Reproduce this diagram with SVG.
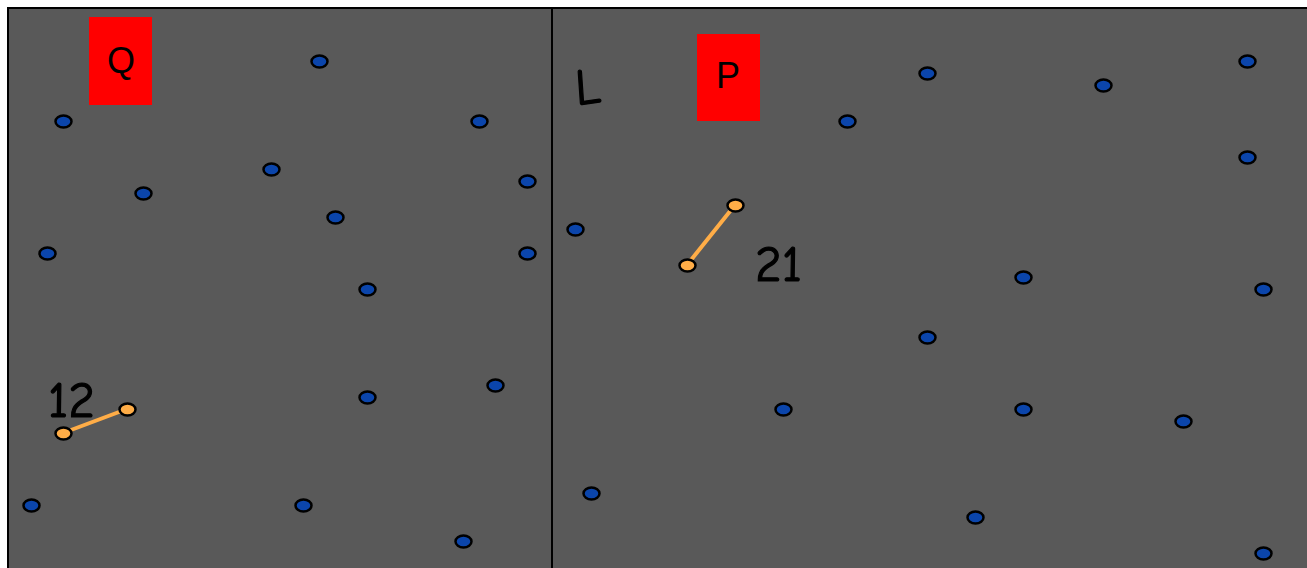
<svg xmlns="http://www.w3.org/2000/svg" width="1307" height="568" viewBox="0 0 1307 568">
<style>
.b{fill:#0b45ab;stroke:#000;stroke-width:2.5}
.o{fill:#ffad47;stroke:#000;stroke-width:2.5}
.lk{stroke:#ffad47;stroke-width:4}
.lbl{font-family:"Comic Sans MS","Comic Neue","DejaVu Sans",sans-serif;font-size:51px;fill:#000;stroke:#000;stroke-width:1.2}
.box{fill:#ff0000}
.bt{font-family:"Liberation Sans",Arial,sans-serif;font-size:36px;fill:#000;text-anchor:middle}
</style>
<rect x="8" y="8" width="1310" height="570" fill="#595959" stroke="#000" stroke-width="2"/>
<line x1="552" y1="8" x2="552" y2="568" stroke="#000" stroke-width="2"/>
<g id="Q"><rect class="box" x="89" y="17" width="63" height="88"/><text class="bt" x="121" y="73">Q</text></g>
<g id="P"><rect class="box" x="697" y="34" width="63" height="87"/><text class="bt" x="728" y="88">P</text></g>
<text class="lbl" x="575" y="104" transform="rotate(-4 588 88)">L</text>
<text class="lbl" x="48" y="417">12</text>
<text class="lbl" x="755" y="281">21</text>
<g id="connectors">
<line class="lk" x1="63" y1="433" x2="127" y2="409"/>
<line class="lk" x1="687" y1="265" x2="735" y2="205"/>
</g>
<g id="dots">
<ellipse class="b" cx="63.5" cy="121.5" rx="8" ry="6"/>
<ellipse class="b" cx="319.5" cy="61.5" rx="8" ry="6"/>
<ellipse class="b" cx="479.5" cy="121.5" rx="8" ry="6"/>
<ellipse class="b" cx="143.5" cy="193.5" rx="8" ry="6"/>
<ellipse class="b" cx="271.5" cy="169.5" rx="8" ry="6"/>
<ellipse class="b" cx="527.5" cy="181.5" rx="8" ry="6"/>
<ellipse class="b" cx="335.5" cy="217.5" rx="8" ry="6"/>
<ellipse class="b" cx="47.5" cy="253.5" rx="8" ry="6"/>
<ellipse class="b" cx="527.5" cy="253.5" rx="8" ry="6"/>
<ellipse class="b" cx="367.5" cy="289.5" rx="8" ry="6"/>
<ellipse class="b" cx="367.5" cy="397.5" rx="8" ry="6"/>
<ellipse class="b" cx="495.5" cy="385.5" rx="8" ry="6"/>
<ellipse class="b" cx="31.5" cy="505.5" rx="8" ry="6"/>
<ellipse class="b" cx="303.5" cy="505.5" rx="8" ry="6"/>
<ellipse class="b" cx="463.5" cy="541.5" rx="8" ry="6"/>
<ellipse class="b" cx="927.5" cy="73.5" rx="8" ry="6"/>
<ellipse class="b" cx="1103.5" cy="85.5" rx="8" ry="6"/>
<ellipse class="b" cx="1247.5" cy="61.5" rx="8" ry="6"/>
<ellipse class="b" cx="847.5" cy="121.5" rx="8" ry="6"/>
<ellipse class="b" cx="1247.5" cy="157.5" rx="8" ry="6"/>
<ellipse class="b" cx="575.5" cy="229.5" rx="8" ry="6"/>
<ellipse class="b" cx="1023.5" cy="277.5" rx="8" ry="6"/>
<ellipse class="b" cx="1263.5" cy="289.5" rx="8" ry="6"/>
<ellipse class="b" cx="927.5" cy="337.5" rx="8" ry="6"/>
<ellipse class="b" cx="783.5" cy="409.5" rx="8" ry="6"/>
<ellipse class="b" cx="1023.5" cy="409.5" rx="8" ry="6"/>
<ellipse class="b" cx="1183.5" cy="421.5" rx="8" ry="6"/>
<ellipse class="b" cx="591.5" cy="493.5" rx="8" ry="6"/>
<ellipse class="b" cx="975.5" cy="517.5" rx="8" ry="6"/>
<ellipse class="b" cx="1263.5" cy="553.5" rx="8" ry="6"/>
</g>
<g id="orange">
<ellipse class="o" cx="63.5" cy="433.5" rx="8" ry="6"/>
<ellipse class="o" cx="127.5" cy="409.5" rx="8" ry="6"/>
<ellipse class="o" cx="687.5" cy="265.5" rx="8" ry="6"/>
<ellipse class="o" cx="735.5" cy="205.5" rx="8" ry="6"/>
</g>
</svg>
